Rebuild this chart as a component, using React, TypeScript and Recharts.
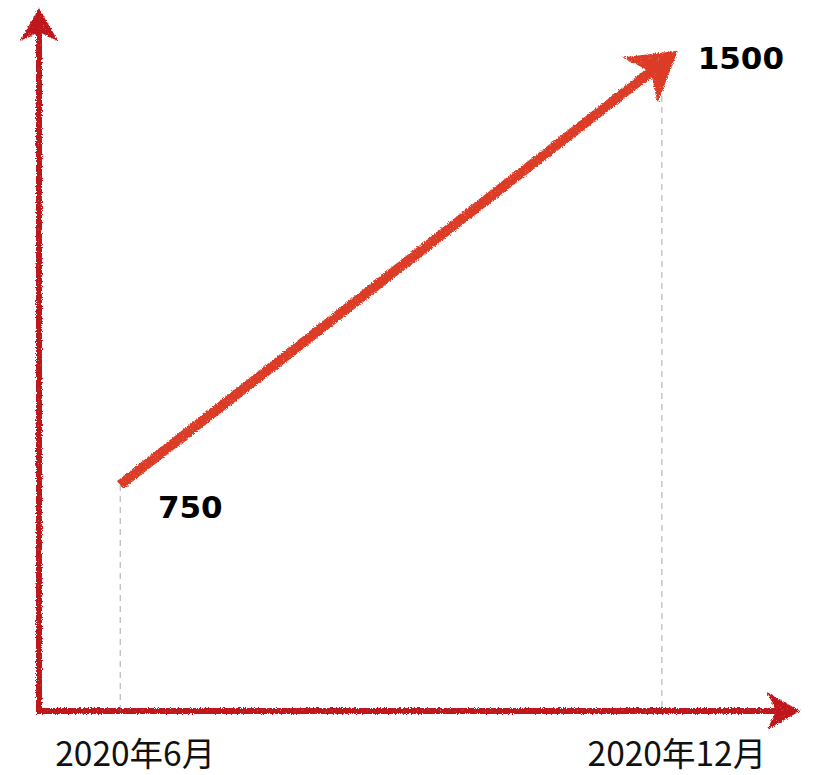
import React from "react";
import {
  ComposedChart,
  Line,
  XAxis,
  YAxis,
  ReferenceLine,
  LabelList,
} from "recharts";

// ---- data ----
const months = ["2020年6月", "2020年12月"];
const monthIndex = [6, 12];
const values = [750, 1500];

const data = months.map((m, i) => ({ month: m, x: monthIndex[i], value: values[i] }));

// ---- layout / style ----
const W = 815;
const H = 775;
const X_DOMAIN: [number, number] = [5.1, 13.53];
const Y_DOMAIN: [number, number] = [348, 1598];
const AXIS_COLOR = "#bf161c";
const LINE_COLOR = "#dc3a26";

const arrowPath = (tipX: number, tipY: number, dx: number, dy: number, len: number, half: number, notch: number) => {
  const px = -dy;
  const py = dx;
  const bx = tipX - dx * len;
  const by = tipY - dy * len;
  const nx = tipX - dx * notch;
  const ny = tipY - dy * notch;
  return `M${tipX},${tipY} L${bx + px * half},${by + py * half} L${nx},${ny} L${bx - px * half},${by - py * half} Z`;
};

const AxisArrow = (props: any) => {
  const { x1, y1, x2, y2 } = props;
  const ddx = x2 - x1;
  const ddy = y2 - y1;
  const L = Math.sqrt(ddx * ddx + ddy * ddy) || 1;
  const ux = ddx / L;
  const uy = ddy / L;
  const sx = x1 - ux * 3;
  const sy = y1 - uy * 3;
  const ex = x2 - ux * 12;
  const ey = y2 - uy * 12;
  return (
    <g filter="url(#rough)">
      <line x1={sx} y1={sy} x2={ex} y2={ey} stroke={AXIS_COLOR} strokeWidth={6} />
      <path d={arrowPath(x2, y2, ux, uy, 33, 19, 24)} fill={AXIS_COLOR} />
    </g>
  );
};

const EndArrow = (props: any) => {
  const { cx, cy, index, points } = props;
  if (index !== values.length - 1 || !points || points.length < 2) return <g key={`d${index}`} />;
  const p0 = points[0];
  const p1 = points[points.length - 1];
  const ddx = p1.x - p0.x;
  const ddy = p1.y - p0.y;
  const L = Math.sqrt(ddx * ddx + ddy * ddy) || 1;
  const ux = ddx / L;
  const uy = ddy / L;
  const tipX = cx + ux * 20;
  const tipY = cy + uy * 20;
  return (
    <g key={`d${index}`} filter="url(#rough)">
      <line x1={cx - ux * 20} y1={cy - uy * 20} x2={tipX - ux * 30} y2={tipY - uy * 30} stroke={LINE_COLOR} strokeWidth={10} />
      <path d={arrowPath(tipX, tipY, ux, uy, 48, 29, 34)} fill={LINE_COLOR} />
    </g>
  );
};

const ValueLabel = (props: any) => {
  const { x, y, index, value } = props;
  const off = index === 0 ? { dx: 70, dy: 33 } : { dx: 79, dy: 6 };
  return (
    <text
      x={x + off.dx}
      y={y + off.dy}
      textAnchor="middle"
      fontFamily="DejaVu Sans"
      fontWeight="bold"
      fontSize={31}
      fill="#000"
    >
      {value}
    </text>
  );
};

const MonthTick = (props: any) => {
  const { x, y, payload } = props;
  const i = monthIndex.indexOf(payload.value);
  return (
    <text
      x={x + 15}
      y={y + 55}
      textAnchor="middle"
      fontFamily="'Noto Sans CJK JP'"
      fontSize={33.5}
      fill="#111"
    >
      {months[i]}
    </text>
  );
};

export default function App() {
  return (
    <div style={{ position: "absolute", left: 0, top: 0, width: W, height: H, background: "#fff" }}>
      <svg width={0} height={0} style={{ position: "absolute" }}>
        <defs>
          <filter id="rough" filterUnits="userSpaceOnUse" x={0} y={0} width={W} height={H}>
            <feTurbulence type="fractalNoise" baseFrequency="0.8" numOctaves={2} seed={4} result="noise" />
            <feDisplacementMap in="SourceGraphic" in2="noise" scale={4} xChannelSelector="R" yChannelSelector="G" result="disp" />
            <feTurbulence type="fractalNoise" baseFrequency="1.6" numOctaves={1} seed={9} result="noise2" />
            <feColorMatrix
              in="noise2"
              type="matrix"
              values="0 0 0 0 0  0 0 0 0 0  0 0 0 0 0  2.6 0 0 0 0.1"
              result="alphaNoise"
            />
            <feComposite in="disp" in2="alphaNoise" operator="in" />
          </filter>
        </defs>
      </svg>
      <ComposedChart
        width={W}
        height={H}
        data={data}
        margin={{ top: 8, right: 15, bottom: 0, left: 39 }}
      >
        <XAxis
          dataKey="x"
          type="number"
          domain={X_DOMAIN}
          ticks={monthIndex}
          height={64}
          axisLine={false}
          tickLine={false}
          tickSize={0}
          tickMargin={0}
          tick={<MonthTick />}
          allowDataOverflow
        />
        <YAxis type="number" domain={Y_DOMAIN} hide width={0} allowDataOverflow />
        {data.map((d) => (
          <ReferenceLine
            key={d.month}
            segment={[
              { x: d.x, y: d.value },
              { x: d.x, y: Y_DOMAIN[0] },
            ]}
            stroke="#b8b8b8"
            strokeWidth={1.2}
            strokeDasharray="6 5"
          />
        ))}
        <ReferenceLine
          segment={[
            { x: X_DOMAIN[0], y: Y_DOMAIN[0] },
            { x: X_DOMAIN[0], y: Y_DOMAIN[1] },
          ]}
          shape={<AxisArrow />}
        />
        <ReferenceLine
          segment={[
            { x: X_DOMAIN[0], y: Y_DOMAIN[0] },
            { x: X_DOMAIN[1], y: Y_DOMAIN[0] },
          ]}
          shape={<AxisArrow />}
        />
        <Line
          dataKey="value"
          type="linear"
          stroke={LINE_COLOR}
          strokeWidth={10}
          filter="url(#rough)"
          dot={<EndArrow />}
          activeDot={false}
          isAnimationActive={false}
        >
          <LabelList dataKey="value" content={<ValueLabel />} />
        </Line>
      </ComposedChart>
    </div>
  );
}
